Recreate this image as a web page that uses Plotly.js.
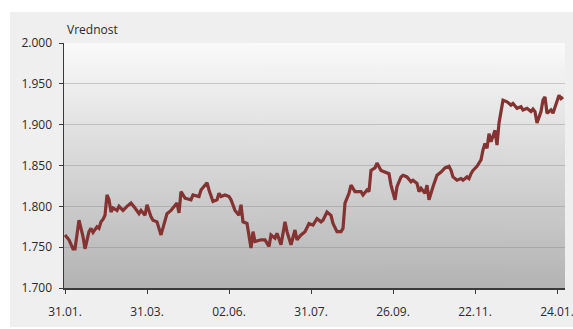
<!DOCTYPE html>
<html>
<head>
<meta charset="utf-8">
<script src="https://cdn.plot.ly/plotly-3.0.1.min.js"></script>
<style>
  html, body { margin: 0; padding: 0; background: #ffffff; width: 573px; height: 329px; overflow: hidden; }
  #chart { position: absolute; left: 10px; top: 12px; width: 563px; height: 315px; }
</style>
</head>
<body>
<div id="chart"></div>
<script>
// Trading-day number (counted from the first day shown) and index value on that day
const tradingDay = [
  0, 2, 4, 5, 7, 9, 10, 12, 13, 14, 16, 17, 18, 19, 20, 21, 22, 23, 24, 26,
  27, 29, 31, 33, 35, 37, 38, 40, 41, 43, 44, 46, 48, 49, 51, 53, 54, 56, 57, 58,
  60, 63, 64, 67, 68, 71, 72, 74, 76, 77, 78, 80, 82, 83, 85, 87, 88, 89, 91, 92,
  93, 94, 95, 98, 100, 102, 103, 105, 106, 108, 110, 111, 113, 115, 116, 118, 120, 122, 124, 126,
  128, 129, 131, 133, 134, 136, 138, 139, 140, 142, 143, 145, 148, 149, 151, 152, 153, 155, 156, 158,
  160, 162, 163, 165, 166, 168, 169, 171, 173, 174, 176, 177, 178, 180, 181, 182, 184, 186, 188, 190,
  192, 193, 194, 196, 198, 199, 201, 202, 203, 204, 206, 208, 209, 210, 211, 212, 213, 215, 216, 217,
  218, 219, 221, 223, 224, 226, 228, 229, 231, 233, 234, 235, 236, 238, 239, 240, 241, 243, 244, 245,
  246, 247, 248, 249
];
const indexValue = [
  1.765, 1.759, 1.748, 1.748, 1.783, 1.763, 1.748, 1.769, 1.773, 1.768, 1.775, 1.773, 1.781, 1.784, 1.789, 1.814, 1.808, 1.793, 1.798, 1.795,
  1.800, 1.795, 1.800, 1.804, 1.798, 1.791, 1.795, 1.789, 1.802, 1.787, 1.783, 1.781, 1.765, 1.773, 1.791, 1.795, 1.798, 1.804, 1.792, 1.818,
  1.810, 1.808, 1.814, 1.812, 1.820, 1.829, 1.820, 1.806, 1.808, 1.816, 1.812, 1.814, 1.812, 1.808, 1.795, 1.789, 1.802, 1.781, 1.779, 1.761,
  1.749, 1.769, 1.757, 1.759, 1.759, 1.751, 1.765, 1.761, 1.767, 1.753, 1.781, 1.769, 1.753, 1.771, 1.759, 1.765, 1.769, 1.779, 1.777, 1.785,
  1.781, 1.783, 1.793, 1.789, 1.779, 1.769, 1.769, 1.773, 1.804, 1.816, 1.826, 1.818, 1.818, 1.814, 1.820, 1.818, 1.844, 1.847, 1.853, 1.844,
  1.842, 1.840, 1.826, 1.808, 1.824, 1.836, 1.838, 1.836, 1.830, 1.832, 1.828, 1.818, 1.822, 1.816, 1.826, 1.808, 1.824, 1.838, 1.842, 1.847,
  1.849, 1.844, 1.836, 1.832, 1.834, 1.832, 1.836, 1.834, 1.840, 1.844, 1.849, 1.857, 1.869, 1.877, 1.871, 1.889, 1.879, 1.893, 1.875, 1.902,
  1.916, 1.930, 1.928, 1.924, 1.926, 1.920, 1.922, 1.918, 1.920, 1.916, 1.919, 1.916, 1.902, 1.916, 1.930, 1.934, 1.914, 1.918, 1.914, 1.922,
  1.928, 1.936, 1.932, 1.934
];

// Date labels placed every 41 trading days
const tickDays = [0, 41, 82, 123, 164, 205, 246];
const tickLabels = ['31.01.', '31.03.', '02.06.', '31.07.', '26.09.', '22.11.', '24.01.'];

// Vertical light-to-grey gradient used behind the plotting area
function gradientImage() {
  const c = document.createElement('canvas');
  c.width = 4; c.height = 256;
  const ctx = c.getContext('2d');
  const g = ctx.createLinearGradient(0, 0, 0, 256);
  g.addColorStop(0, '#fafafa');
  g.addColorStop(0.5, '#d7d7d7');
  g.addColorStop(1, '#b3b3b3');
  ctx.fillStyle = g;
  ctx.fillRect(0, 0, 4, 256);
  return c.toDataURL('image/png');
}

const fontFamily = '"Open Sans", "DejaVu Sans", sans-serif';

const trace = {
  x: tradingDay,
  y: indexValue,
  type: 'scatter',
  mode: 'lines',
  line: { color: '#843232', width: 3.2 },
  hoverinfo: 'skip'
};

const layout = {
  width: 563,
  height: 315,
  margin: { l: 54, r: 8, t: 31, b: 39, pad: 0 },
  paper_bgcolor: '#efefef',
  plot_bgcolor: 'rgba(0,0,0,0)',
  showlegend: false,
  font: { family: fontFamily, size: 12, color: '#2b2b2b' },
  images: [{
    source: gradientImage(),
    xref: 'paper', yref: 'paper',
    x: 0, y: 1, sizex: 1, sizey: 1,
    xanchor: 'left', yanchor: 'top',
    sizing: 'stretch', layer: 'below'
  }],
  xaxis: {
    range: [-0.5, 250],
    tickmode: 'array',
    tickvals: tickDays,
    ticktext: tickLabels,
    showgrid: false,
    zeroline: false,
    showline: true,
    linecolor: '#3a3a3a',
    linewidth: 1.5,
    ticks: 'outside',
    ticklen: 4,
    tickwidth: 1,
    tickcolor: '#3a3a3a',
    ticklabelstandoff: 8,
    ticklabeloverflow: 'allow',
    tickfont: { family: fontFamily, size: 12, color: '#2b2b2b' },
    fixedrange: true
  },
  yaxis: {
    range: [1.7, 2.0],
    tickmode: 'linear',
    tick0: 1.7,
    dtick: 0.05,
    tickformat: '.3f',
    showgrid: true,
    gridcolor: 'rgba(125,125,125,0.35)',
    gridwidth: 1,
    zeroline: false,
    showline: true,
    linecolor: '#3a3a3a',
    linewidth: 1.5,
    ticks: 'outside',
    ticklen: 4,
    tickwidth: 1,
    tickcolor: '#3a3a3a',
    ticklabelstandoff: 4,
    tickfont: { family: fontFamily, size: 12, color: '#2b2b2b' },
    fixedrange: true
  },
  annotations: [{
    text: 'Vrednost',
    xref: 'paper', yref: 'paper',
    x: 0, y: 1,
    xanchor: 'left', yanchor: 'bottom',
    xshift: 1, yshift: 3,
    showarrow: false,
    font: { family: fontFamily, size: 12, color: '#2b2b2b' }
  }]
};

Plotly.newPlot('chart', [trace], layout, { displayModeBar: false, staticPlot: true });
</script>
</body>
</html>
